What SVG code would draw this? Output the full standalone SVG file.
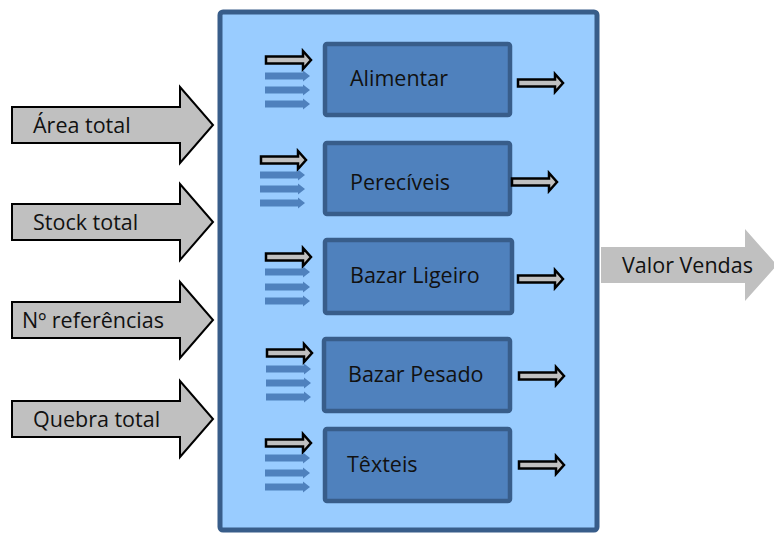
<svg xmlns="http://www.w3.org/2000/svg" xmlns:xlink="http://www.w3.org/1999/xlink" width="774" height="533" viewBox="0 0 774 533">
  <style>
    .lbl { font-family: "Open Sans", "Liberation Sans", sans-serif; font-size: 21.5px; fill: #111; }
    .frame { fill: #99CCFF; stroke: #385D8A; stroke-width: 5; }
    .box { fill: #4F81BD; stroke: #385D8A; stroke-width: 4.5; }
    .big { fill: #C0C0C0; stroke: #000; stroke-width: 2; stroke-linejoin: miter; }
    .out { fill: #C0C0C0; }
    .small { fill: #C0C0C0; stroke: #000; stroke-width: 2.5; }
    .feed { fill: #4F81BD; }
  </style>
  <defs>
    <!-- input arrow: origin at left end of shaft, vertical centre -->
    <path id="bigArrow" d="M0,-18 H168 V-38 L201,0 L168,38 V18 H0 Z"/>
    <!-- outlined flow arrow -->
    <path id="flowArrow" d="M0,-3.5 H37 V-9 L45,0 L37,9 V3.5 H0 Z"/>
    <!-- plain blue feed arrow -->
    <path id="feedArrow" d="M0,-3.5 H38 V-5.5 L45,0 L38,5.5 V3.5 H0 Z"/>
  </defs>

  <!-- container -->
  <g id="container">
    <rect class="frame" x="220" y="12" width="377" height="518" rx="3"/>
  </g>

  <!-- inputs -->
  <g id="in-area">
    <use href="#bigArrow" class="big" transform="translate(12,125)"/>
    <text class="lbl" x="33" y="133">Área total</text>
  </g>
  <g id="in-stock">
    <use href="#bigArrow" class="big" transform="translate(12,222)"/>
    <text class="lbl" x="33" y="230">Stock total</text>
  </g>
  <g id="in-refs">
    <use href="#bigArrow" class="big" transform="translate(12,320)"/>
    <text class="lbl" x="22" y="328">Nº referências</text>
  </g>
  <g id="in-quebra">
    <use href="#bigArrow" class="big" transform="translate(12,419)"/>
    <text class="lbl" x="33" y="427">Quebra total</text>
  </g>

  <!-- output -->
  <g id="out-vendas">
    <path class="out" d="M601,247 H745 V229 L777,265 L745,301 V283 H601 Z"/>
    <text class="lbl" x="622" y="273">Valor Vendas</text>
  </g>

  <!-- departments -->
  <g id="alimentar">
    <rect class="box" x="325" y="44" width="185" height="71" rx="2"/>
    <text class="lbl" x="350" y="86">Alimentar</text>
  </g>
  <g id="pereciveis">
    <rect class="box" x="325" y="143" width="185" height="71" rx="2"/>
    <text class="lbl" x="350" y="190">Perecíveis</text>
  </g>
  <g id="bazar-ligeiro">
    <rect class="box" x="325" y="240" width="187" height="73" rx="2"/>
    <text class="lbl" x="350" y="283">Bazar Ligeiro</text>
  </g>
  <g id="bazar-pesado">
    <rect class="box" x="324" y="339" width="186" height="72" rx="2"/>
    <text class="lbl" x="348" y="382">Bazar Pesado</text>
  </g>
  <g id="texteis">
    <rect class="box" x="325" y="429" width="185" height="72" rx="2"/>
    <text class="lbl" x="347" y="472">Têxteis</text>
  </g>

  <!-- connectors -->
  <g id="connectors">
    <!-- Alimentar -->
    <use href="#flowArrow" class="small" transform="translate(266,60)"/>
    <use href="#feedArrow" class="feed" transform="translate(265,76)"/>
    <use href="#feedArrow" class="feed" transform="translate(265,90)"/>
    <use href="#feedArrow" class="feed" transform="translate(265,104)"/>
    <use href="#flowArrow" class="small" transform="translate(518,83)"/>
    <!-- Perecíveis -->
    <use href="#flowArrow" class="small" transform="translate(261,160)"/>
    <use href="#feedArrow" class="feed" transform="translate(260,175)"/>
    <use href="#feedArrow" class="feed" transform="translate(260,189)"/>
    <use href="#feedArrow" class="feed" transform="translate(260,203)"/>
    <use href="#flowArrow" class="small" transform="translate(512,182)"/>
    <!-- Bazar Ligeiro -->
    <use href="#flowArrow" class="small" transform="translate(266,257)"/>
    <use href="#feedArrow" class="feed" transform="translate(265,272)"/>
    <use href="#feedArrow" class="feed" transform="translate(265,287)"/>
    <use href="#feedArrow" class="feed" transform="translate(265,301)"/>
    <use href="#flowArrow" class="small" transform="translate(518,279)"/>
    <!-- Bazar Pesado -->
    <use href="#flowArrow" class="small" transform="translate(267,353)"/>
    <use href="#feedArrow" class="feed" transform="translate(266,369)"/>
    <use href="#feedArrow" class="feed" transform="translate(266,383)"/>
    <use href="#feedArrow" class="feed" transform="translate(266,397)"/>
    <use href="#flowArrow" class="small" transform="translate(519,376)"/>
    <!-- Têxteis -->
    <use href="#flowArrow" class="small" transform="translate(266,443)"/>
    <use href="#feedArrow" class="feed" transform="translate(265,458)"/>
    <use href="#feedArrow" class="feed" transform="translate(265,473)"/>
    <use href="#feedArrow" class="feed" transform="translate(265,487)"/>
    <use href="#flowArrow" class="small" transform="translate(519,465)"/>
  </g>
</svg>
